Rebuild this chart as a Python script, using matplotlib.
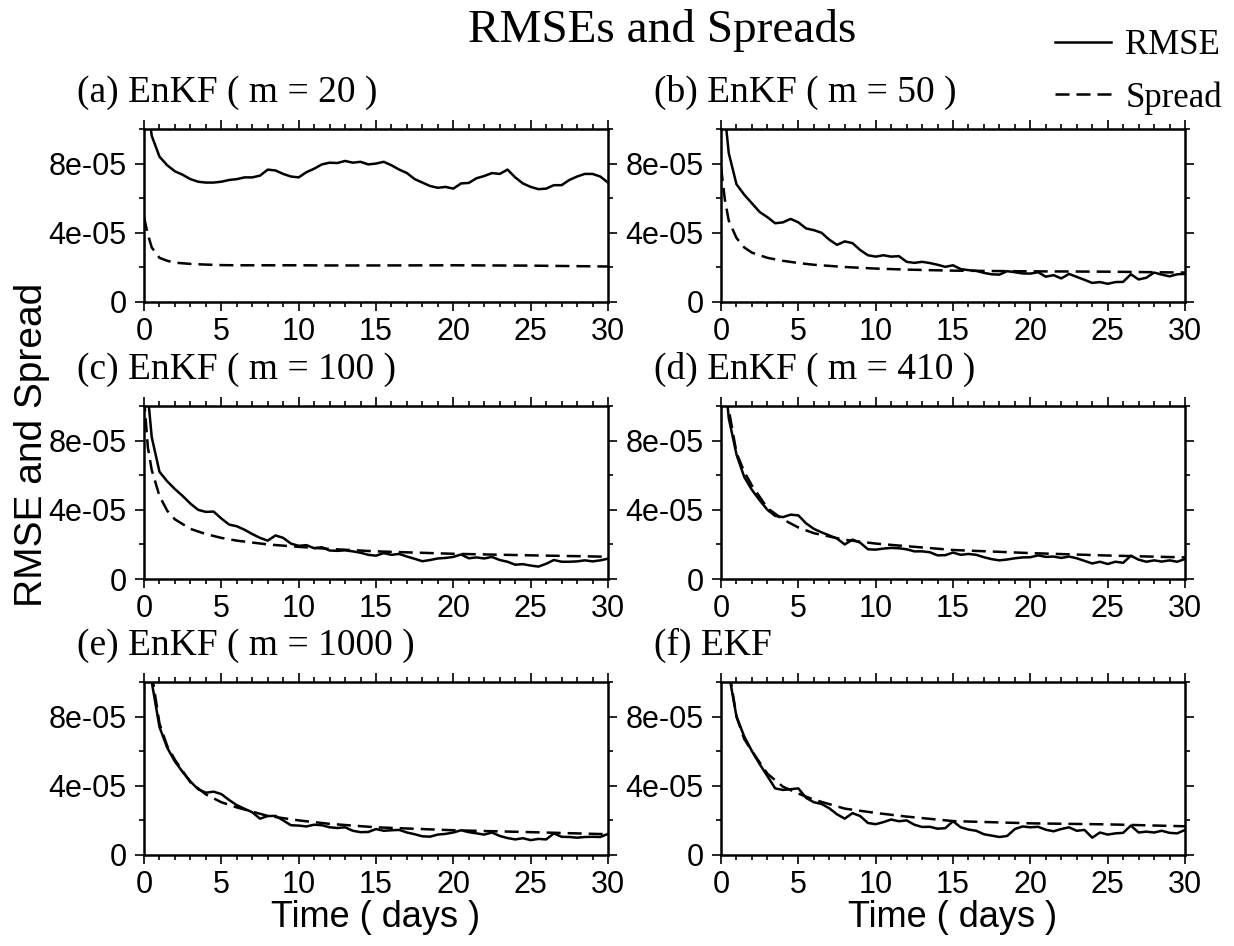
import numpy as np
import matplotlib.pyplot as plt
from matplotlib.lines import Line2D
from matplotlib.ticker import MultipleLocator

plt.rcParams['font.family'] = ['Liberation Sans', 'DejaVu Sans']
SERIF = 'Liberation Serif'

# values are in units of 1e-5
scale = 1e-5
days = np.arange(0, 30.5, 0.5)
sp_days = [0, 0.25, 0.5, 1, 1.5, 2, 3, 4, 5, 6, 8, 10, 12, 15, 20, 25, 30]

rmse_a = [13.0, 9.6, 8.4, 7.9, 7.55, 7.35, 7.1, 6.95, 6.9, 6.9,
          6.95, 7.05, 7.1, 7.2, 7.2, 7.3, 7.65, 7.6, 7.4, 7.25,
          7.2, 7.5, 7.7, 7.95, 8.05, 8.03, 8.15, 8.05, 8.1, 7.95,
          8.0, 8.1, 7.9, 7.65, 7.45, 7.1, 6.9, 6.7, 6.6, 6.65,
          6.55, 6.85, 6.88, 7.15, 7.28, 7.45, 7.4, 7.65, 7.2, 6.85,
          6.65, 6.52, 6.55, 6.75, 6.75, 7.05, 7.25, 7.4, 7.4, 7.25,
          6.9]
rmse_b = [13.0, 8.6, 6.8, 6.2, 5.7, 5.2, 4.9, 4.55, 4.6, 4.8,
          4.6, 4.25, 4.15, 4.0, 3.6, 3.3, 3.5, 3.4, 3.0, 2.7,
          2.62, 2.7, 2.62, 2.65, 2.32, 2.26, 2.32, 2.25, 2.15, 2.03,
          2.12, 1.9, 1.84, 1.8, 1.68, 1.6, 1.58, 1.78, 1.72, 1.65,
          1.64, 1.72, 1.46, 1.55, 1.36, 1.62, 1.45, 1.28, 1.1, 1.15,
          1.05, 1.15, 1.16, 1.6, 1.3, 1.4, 1.7, 1.58, 1.48, 1.6,
          1.62]
rmse_c = [13.0, 8.2, 6.2, 5.65, 5.2, 4.8, 4.36, 4.0, 3.88, 3.9,
          3.5, 3.15, 3.05, 2.85, 2.6, 2.38, 2.22, 2.52, 2.38, 2.05,
          1.92, 1.96, 1.78, 1.84, 1.65, 1.63, 1.66, 1.6, 1.52, 1.4,
          1.35, 1.5, 1.4, 1.45, 1.3, 1.17, 1.03, 1.1, 1.19, 1.22,
          1.28, 1.42, 1.2, 1.25, 1.19, 1.28, 1.1, 1.0, 0.83, 0.86,
          0.78, 0.72, 0.88, 1.1, 1.0, 1.0, 1.02, 1.08, 1.02, 1.08,
          1.18]
rmse_d = [14.0, 9.3, 7.2, 5.9, 5.15, 4.55, 4.0, 3.65, 3.58, 3.72,
          3.68, 3.22, 2.9, 2.7, 2.52, 2.34, 2.0, 2.28, 2.1, 1.72,
          1.7, 1.76, 1.8, 1.78, 1.72, 1.6, 1.6, 1.55, 1.37, 1.38,
          1.53, 1.4, 1.45, 1.4, 1.26, 1.15, 1.08, 1.13, 1.2, 1.25,
          1.26, 1.37, 1.28, 1.3, 1.22, 1.3, 1.2, 1.05, 0.9, 1.0,
          0.87, 1.0, 0.94, 1.35, 1.12, 1.0, 1.08, 1.01, 1.08, 1.0,
          1.16]
rmse_e = [15.0, 10.0, 7.4, 6.2, 5.4, 4.8, 4.25, 3.8, 3.6, 3.66,
          3.52, 3.18, 2.88, 2.67, 2.47, 2.1, 2.25, 2.26, 2.0, 1.72,
          1.7, 1.65, 1.75, 1.72, 1.6, 1.56, 1.6, 1.4, 1.32, 1.33,
          1.5, 1.4, 1.43, 1.45, 1.3, 1.2, 1.08, 1.06, 1.18, 1.22,
          1.3, 1.43, 1.32, 1.25, 1.18, 1.3, 1.1, 0.98, 0.9, 0.97,
          0.86, 0.93, 0.9, 1.25, 1.05, 1.04, 1.0, 1.04, 1.05, 1.04,
          1.22]
rmse_f = [16.0, 10.5, 8.0, 6.85, 6.0, 5.25, 4.56, 3.85, 3.76, 3.8,
          3.85, 3.3, 3.05, 2.95, 2.7, 2.35, 2.1, 2.42, 2.25, 1.85,
          1.78, 1.9, 2.05, 1.95, 2.0, 1.75, 1.62, 1.63, 1.52, 1.55,
          1.95, 1.6, 1.47, 1.4, 1.2, 1.12, 1.04, 1.1, 1.5, 1.65,
          1.6, 1.63, 1.46, 1.37, 1.5, 1.6, 1.4, 1.45, 1.0, 1.3,
          1.18, 1.25, 1.28, 1.7, 1.3, 1.35, 1.3, 1.4, 1.28, 1.25,
          1.45]

spread_a = [4.9, 3.9, 3.15, 2.55, 2.38, 2.27, 2.2, 2.16, 2.13, 2.12, 2.12, 2.12, 2.11, 2.11, 2.12, 2.10, 2.05]
spread_b = [7.8, 5.9, 4.7, 3.7, 3.15, 2.85, 2.55, 2.38, 2.25, 2.15, 2.02, 1.93, 1.87, 1.81, 1.77, 1.75, 1.7]
spread_c = [10.5, 7.6, 6.3, 4.8, 3.95, 3.45, 2.9, 2.6, 2.38, 2.22, 2.0, 1.86, 1.74, 1.6, 1.46, 1.37, 1.29]
spread_d = [18.0, 12.5, 9.8, 7.3, 6.2, 5.4, 4.1, 3.45, 2.98, 2.65, 2.27, 2.05, 1.9, 1.68, 1.5, 1.36, 1.25]
spread_e = [19.0, 13.5, 10.5, 7.6, 6.3, 5.5, 4.2, 3.5, 3.05, 2.75, 2.26, 2.0, 1.8, 1.6, 1.43, 1.32, 1.2]
spread_f = [19.0, 14.0, 10.8, 8.0, 6.7, 6.0, 4.7, 3.95, 3.55, 3.2, 2.68, 2.43, 2.22, 1.96, 1.83, 1.77, 1.66]

titles = ['(a) EnKF ( m = 20 )', '(b) EnKF ( m = 50 )', '(c) EnKF ( m = 100 )',
          '(d) EnKF ( m = 410 )', '(e) EnKF ( m = 1000 )', '(f) EKF']
rmses = [rmse_a, rmse_b, rmse_c, rmse_d, rmse_e, rmse_f]
spreads = [spread_a, spread_b, spread_c, spread_d, spread_e, spread_f]

LW = 1.8
dash = (0, (5.6, 2.8))

fig = plt.figure(figsize=(12.34, 9.46), dpi=100)
lefts = [0.1167, 0.5843]
bottoms = [0.6808, 0.3879, 0.0962]
w, h = 0.376, 0.1829

for i in range(6):
    r, c = divmod(i, 2)
    ax = fig.add_axes([lefts[c], bottoms[r], w, h])
    ax.plot(days, np.array(rmses[i]) * scale, color='k', lw=LW)
    ax.plot(sp_days, np.array(spreads[i]) * scale, color='k', lw=LW, ls=dash)
    ax.set_xlim(0, 30)
    ax.set_ylim(0, 1e-4)
    ax.set_xticks(range(0, 31, 5))
    ax.xaxis.set_minor_locator(MultipleLocator(1))
    ax.set_yticks([0, 4e-5, 8e-5], ['0', '4e-05', '8e-05'])
    ax.yaxis.set_minor_locator(MultipleLocator(2e-5))
    ax.tick_params(which='both', direction='out', top=True, right=True,
                   labelsize=22, width=1.2)
    ax.tick_params(which='major', length=6.5, pad=6)
    ax.tick_params(axis='x', which='major', pad=4)
    ax.tick_params(which='minor', length=3.5)
    for s in ax.spines.values():
        s.set_linewidth(1.8)
    ax.text(-0.145, 1.156, titles[i], transform=ax.transAxes, family=SERIF,
            fontsize=27, ha='left', va='baseline')
    if r == 2:
        ax.set_xlabel('Time ( days )', fontsize=26, labelpad=0)

fig.text(0.5365, 0.9556, 'RMSEs and Spreads', family=SERIF, fontsize=34,
         ha='center', va='baseline')
fig.text(0.026, 0.5296, 'RMSE and Spread', fontsize=28, rotation=90,
         ha='center', va='center')

handles = [Line2D([], [], color='k', lw=LW), Line2D([], [], color='k', lw=LW, ls=dash)]
fig.legend(handles, ['RMSE', 'Spread'], loc='upper right',
           bbox_to_anchor=(1222 / 1234, 1 - 29 / 946), frameon=False,
           prop={'family': SERIF, 'size': 25}, handlelength=1.62,
           handletextpad=0.4, labelspacing=0.55, borderpad=0, borderaxespad=0)

fig.savefig('out.png', dpi=100)
